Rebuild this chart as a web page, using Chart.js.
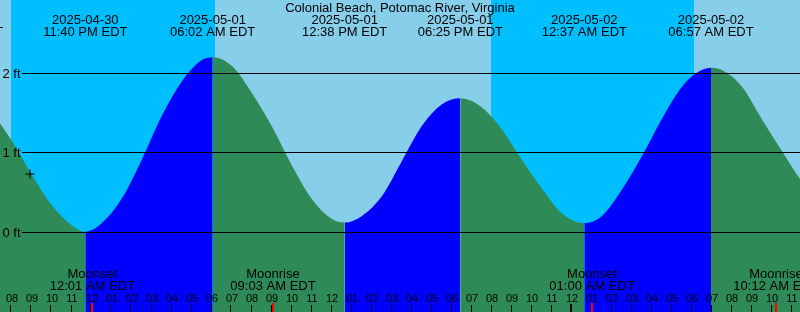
<!DOCTYPE html>
<html><head><meta charset="utf-8">
<script src="https://cdn.jsdelivr.net/npm/chart.js@4/dist/chart.umd.min.js"></script>
<style>html,body{margin:0;padding:0;background:#87CEEB;overflow:hidden}canvas{display:block}</style>
</head><body>
<canvas id="c" width="800" height="312"></canvas>
<script>
// ---- data (hours relative to 2025-05-01 00:00 EDT, heights in feet) ----
const title = 'Colonial Beach, Potomac River, Virginia';
const tideHours = [-6.567, -5.5, -4.6, -4.0, -3.0, -2.0, -1.0, -0.333, 0.5, 1.5, 2.5, 3.5, 4.5, 5.4, 6.033,
  7.0, 8.0, 9.0, 10.0, 11.0, 12.0, 12.633, 13.5, 14.5, 15.5, 16.5, 17.5, 18.417,
  19.5, 20.5, 21.5, 22.5, 23.5, 24.617, 25.5, 26.5, 27.5, 28.5, 29.5, 30.2, 30.95,
  31.5, 32.5, 33.5, 34.5, 35.5, 36.5, 37.35];
const tideFeet = [1.76, 1.64, 1.37, 1.15, 0.72, 0.34, 0.09, 0.01, 0.12, 0.43, 0.92, 1.47, 1.90, 2.15, 2.20,
  2.09, 1.75, 1.33, 0.84, 0.42, 0.17, 0.126, 0.21, 0.46, 0.90, 1.34, 1.61, 1.686,
  1.57, 1.29, 0.91, 0.55, 0.24, 0.12, 0.21, 0.54, 0.96, 1.43, 1.83, 2.00, 2.07,
  2.04, 1.83, 1.42, 1.02, 0.64, 0.38, 0.30];
const eventHours = [-6.567, -0.333, 6.033, 12.633, 18.417, 24.617, 30.95];
const eventDates = ['2025-04-30', '2025-04-30', '2025-05-01', '2025-05-01', '2025-05-01', '2025-05-02', '2025-05-02'];
const eventTimes = ['05:26 PM EDT', '11:40 PM EDT', '06:02 AM EDT', '12:38 PM EDT', '06:25 PM EDT', '12:37 AM EDT', '06:57 AM EDT'];
const moonHours = [0.017, 9.05, 25.0, 34.2];
const moonNames = ['Moonset', 'Moonrise', 'Moonset', 'Moonrise'];
const moonTimes = ['12:01 AM EDT', '09:03 AM EDT', '01:00 AM EDT', '10:12 AM EDT'];
const nightStart = [-4.05, 19.95];
const nightEnd = [6.15, 30.10];
const footTicks = [0, 1, 2];
const footLabels = ['0 ft', '1 ft', '2 ft'];
const hourTicks = [-4, -3, -2, -1, 0, 1, 2, 3, 4, 5, 6, 7, 8, 9, 10, 11, 12, 13, 14, 15, 16, 17, 18, 19,
  20, 21, 22, 23, 24, 25, 26, 27, 28, 29, 30, 31, 32, 33, 34, 35];
const hourLabels = ['08', '09', '10', '11', '12', '01', '02', '03', '04', '05', '06', '07', '08', '09', '10', '11', '12',
  '01', '02', '03', '04', '05', '06', '07', '08', '09', '10', '11', '12',
  '01', '02', '03', '04', '05', '06', '07', '08', '09', '10', '11'];
const dayTicks = [0, 24];
const nowHour = [-3.1];
const nowFeet = [0.735];

// ---- styles ----
const DAY = '#87CEEB', NIGHT = '#00BFFF', RISE = '#0000FF', FALL = '#2E8B57';
const FONT = '"Liberation Sans", Arial, sans-serif';

const bgPlugin = {
  id: 'bg',
  beforeDraw(chart) {
    const {ctx} = chart; const x = chart.scales.x;
    ctx.save();
    ctx.fillStyle = DAY; ctx.fillRect(0, 0, chart.width, chart.height);
    ctx.fillStyle = NIGHT;
    nightStart.forEach((s, i) => {
      const a = Math.round(x.getPixelForValue(s)), b = Math.round(x.getPixelForValue(nightEnd[i]));
      ctx.fillRect(a, 0, b - a, chart.height);
    });
    ctx.restore();
  }
};

const overlayPlugin = {
  id: 'overlay',
  afterDatasetsDraw(chart) {
    const {ctx} = chart; const y = chart.scales.y;
    ctx.save();
    ctx.fillStyle = '#000';
    footTicks.forEach(v => {
      const py = Math.floor(y.getPixelForValue(v));
      ctx.fillRect(22, py, chart.width - 22, 1);
    });
    ctx.restore();
  },
  afterDraw(chart) {
    const {ctx} = chart; const x = chart.scales.x, y = chart.scales.y;
    ctx.save();
    ctx.fillStyle = '#000';
    ctx.textBaseline = 'alphabetic';
    ctx.font = '13px ' + FONT; ctx.textAlign = 'left';
    footTicks.forEach((v, i) => {
      ctx.fillText(footLabels[i], 2.5, Math.floor(y.getPixelForValue(v)) + 5);
    });
    ctx.textAlign = 'center';
    ctx.fillText(title, 400, 12);
    eventHours.forEach((h, i) => {
      const px = x.getPixelForValue(h);
      ctx.fillText(eventDates[i], px, 24);
      ctx.fillText(eventTimes[i], px, 36);
    });
    moonHours.forEach((h, i) => {
      const px = x.getPixelForValue(h);
      ctx.fillText(moonNames[i], px, 278);
      ctx.fillText(moonTimes[i], px, 290);
    });
    ctx.font = '11px ' + FONT;
    hourTicks.forEach((h, i) => {
      const px = x.getPixelForValue(h);
      ctx.fillText(hourLabels[i], px, 302);
      ctx.fillRect(Math.floor(px) - 1, 305, 1, 7);
    });
    dayTicks.forEach(h => {
      const px = x.getPixelForValue(h);
      ctx.fillRect(Math.floor(px) - 2, 304, 2, 8);
    });
    ctx.fillStyle = '#FF0000';
    moonHours.forEach(h => {
      const px = x.getPixelForValue(h);
      ctx.fillRect(Math.floor(px) - 1, 303, 2, 9);
    });
    ctx.restore();
  }
};

new Chart(document.getElementById('c'), {
  type: 'line',
  data: {
    datasets: [
      {
        label: 'now',
        data: nowHour.map((h, i) => ({x: h, y: nowFeet[i]})),
        showLine: false,
        pointStyle: 'cross',
        pointRadius: 4.5,
        borderColor: '#000',
        borderWidth: 1,
        order: 0
      },
      {
        label: 'tide',
        data: tideHours.map((h, i) => ({x: h, y: tideFeet[i]})),
        fill: 'start',
        borderWidth: 0,
        borderColor: 'rgba(0,0,0,0)',
        backgroundColor: FALL,
        pointRadius: 0,
        cubicInterpolationMode: 'monotone',
        segment: {
          backgroundColor: c => (c.p1.parsed.y > c.p0.parsed.y ? RISE : FALL)
        },
        order: 1
      }
    ]
  },
  options: {
    responsive: false,
    devicePixelRatio: 1,
    animation: false,
    events: [],
    layout: {padding: 0, autoPadding: false},
    scales: {
      x: {type: 'linear', min: -4.6, max: 35.4, display: false},
      y: {type: 'linear', min: -0.996, max: 2.9185, display: false}
    },
    plugins: {legend: {display: false}, tooltip: {enabled: false}}
  },
  plugins: [bgPlugin, overlayPlugin]
});
</script>
</body></html>
